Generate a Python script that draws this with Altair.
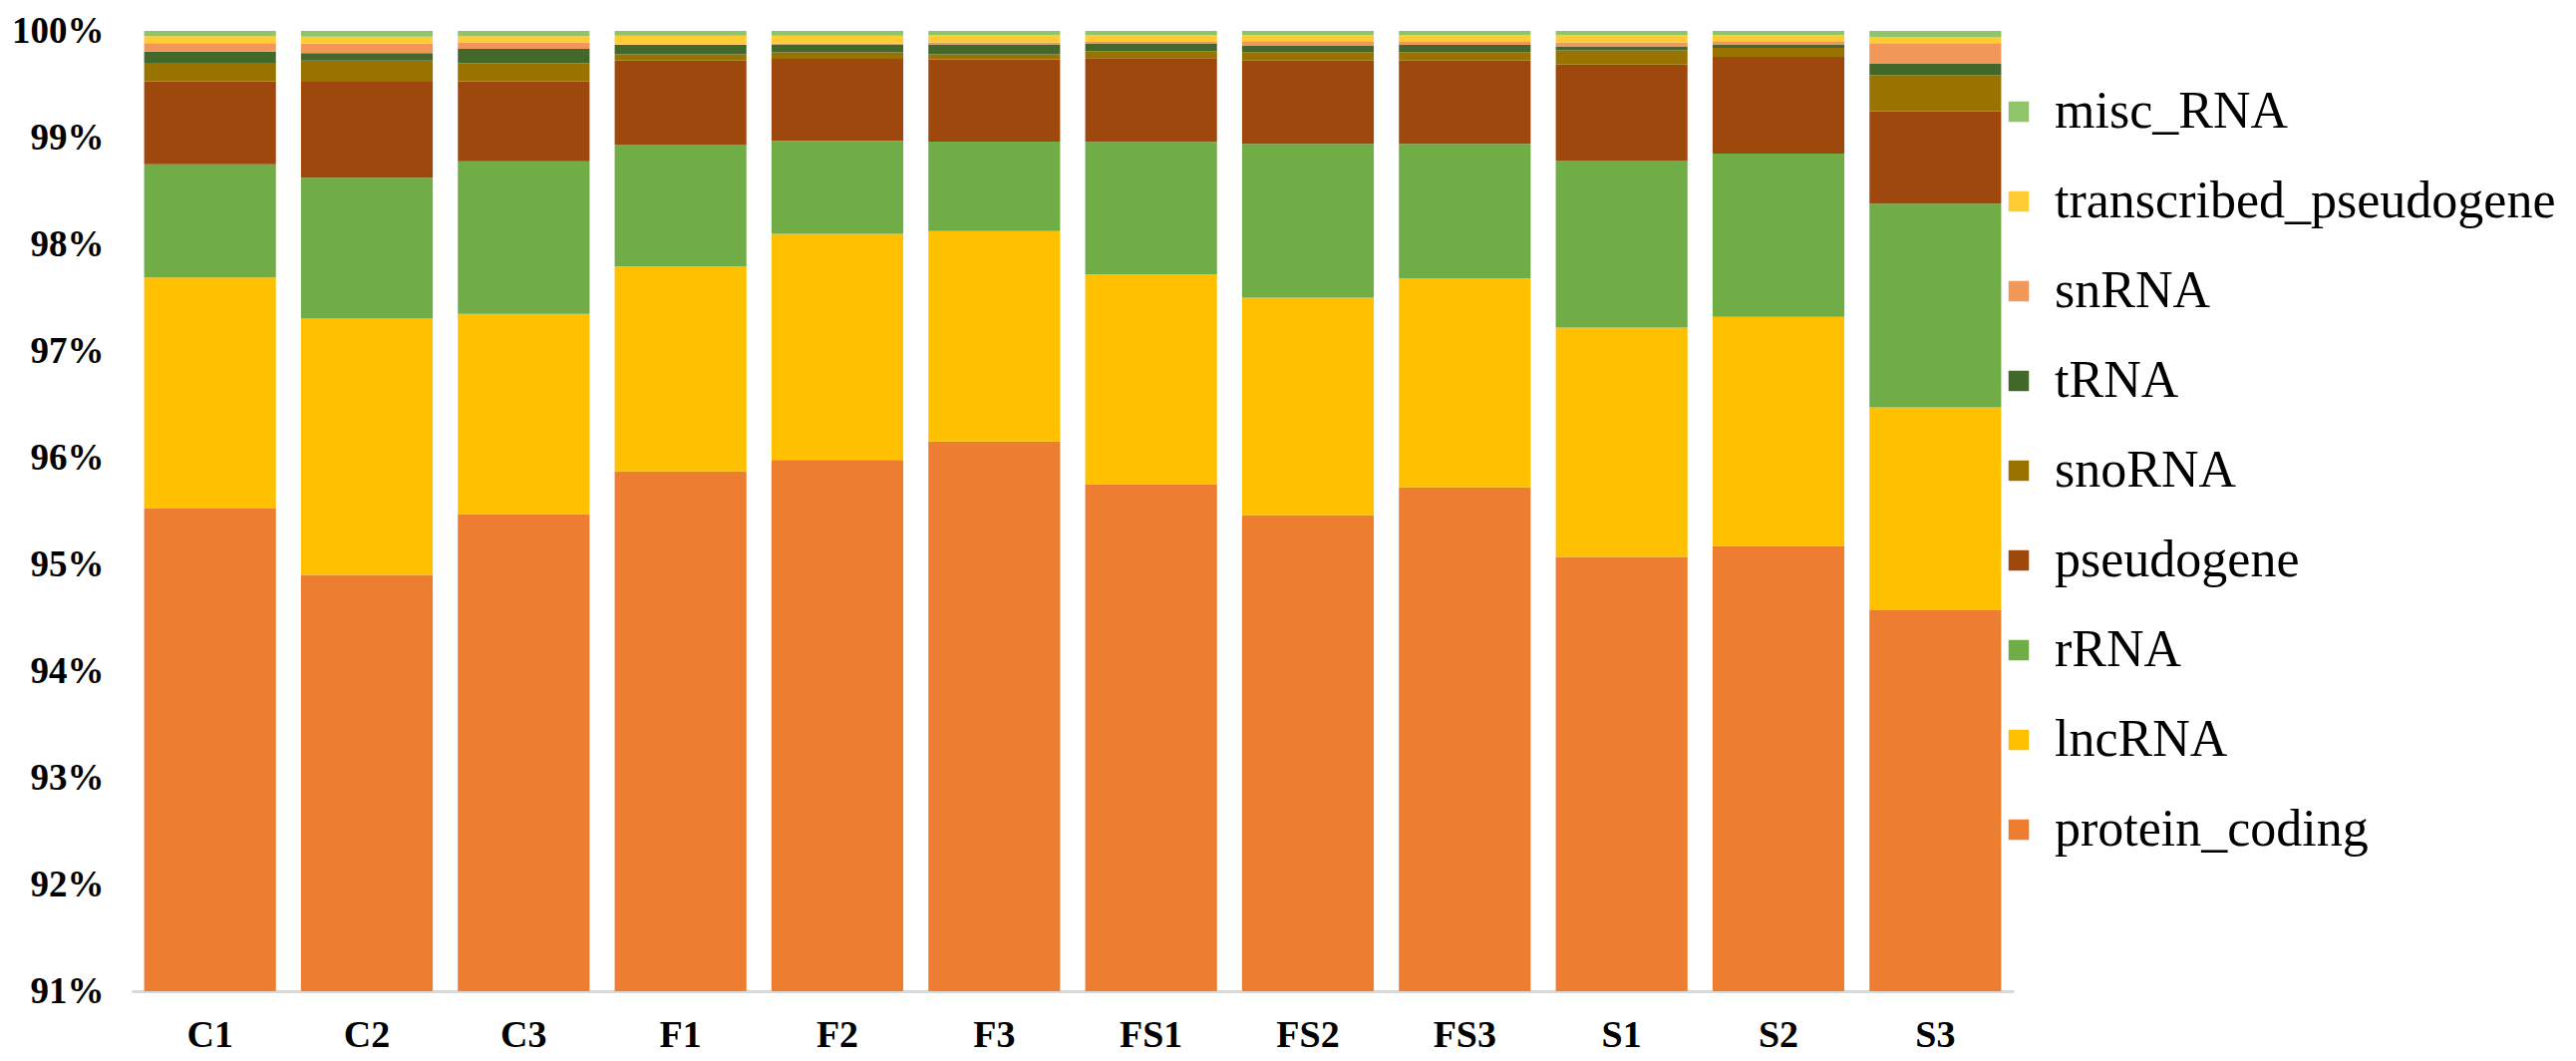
import altair as alt
import pandas as pd

samples = ["C1", "C2", "C3", "F1", "F2", "F3", "FS1", "FS2", "FS3", "S1", "S2", "S3"]

# bottom-to-top stack order
biotypes = ["protein_coding", "lncRNA", "rRNA", "pseudogene", "snoRNA",
            "tRNA", "snRNA", "transcribed_pseudogene", "misc_RNA"]
colors = ["#ED7D31", "#FFC000", "#70AD47", "#9E480E", "#997300",
          "#43682B", "#F1975A", "#FFCD33", "#8FC46A"]

# percentages per sample
protein_coding = [95.53, 94.90, 95.47, 95.87, 95.98, 96.15, 95.75, 95.46, 95.72, 95.07, 95.17, 94.57]
lncRNA = [2.16, 2.40, 1.88, 1.92, 2.12, 1.97, 1.97, 2.04, 1.96, 2.15, 2.15, 1.90]
rRNA = [1.06, 1.32, 1.43, 1.14, 0.87, 0.84, 1.24, 1.44, 1.26, 1.56, 1.53, 1.91]
pseudogene = [0.78, 0.90, 0.75, 0.79, 0.77, 0.77, 0.785, 0.78, 0.78, 0.905, 0.907, 0.866]
snoRNA = [0.171, 0.198, 0.168, 0.060, 0.060, 0.048, 0.063, 0.081, 0.081, 0.132, 0.084, 0.339]
tRNA = [0.105, 0.072, 0.135, 0.087, 0.075, 0.093, 0.075, 0.063, 0.066, 0.039, 0.033, 0.105]
snRNA = [0.081, 0.087, 0.060, 0.006, 0.006, 0.018, 0.015, 0.039, 0.030, 0.036, 0.030, 0.195]
transcribed_pseudogene = [0.066, 0.066, 0.060, 0.081, 0.075, 0.069, 0.063, 0.057, 0.063, 0.069, 0.057, 0.057]
misc_RNA = [0.048, 0.054, 0.048, 0.045, 0.045, 0.039, 0.039, 0.039, 0.039, 0.039, 0.039, 0.057]

series = [protein_coding, lncRNA, rRNA, pseudogene, snoRNA, tRNA, snRNA,
          transcribed_pseudogene, misc_RNA]

y_ticks = [0.91, 0.92, 0.93, 0.94, 0.95, 0.96, 0.97, 0.98, 0.99, 1.0]

rows = []
for bi, (name, vals) in enumerate(zip(biotypes, series)):
    for s, v in zip(samples, vals):
        rows.append({"sample": s, "biotype": name, "value": v, "idx": bi})
df = pd.DataFrame(rows)

FONT = "Liberation Serif"

chart = alt.Chart(df).mark_bar(clip=True).encode(
    x=alt.X("sample:N", sort=samples, title=None,
            scale=alt.Scale(paddingInner=0.16, paddingOuter=0.08),
            axis=alt.Axis(labelAngle=0, ticks=False, domainColor="#D9D9D9",
                          domainWidth=3, labelFontSize=38, labelFont=FONT,
                          labelFontWeight="bold", labelColor="#000000",
                          labelPadding=25)),
    y=alt.Y("value:Q", stack="normalize", title=None,
            scale=alt.Scale(domain=[0.91, 1.0], nice=False, zero=False),
            axis=alt.Axis(values=y_ticks, format=".0%", grid=False, domain=False,
                          ticks=False, labelFontSize=37, labelFont=FONT,
                          labelFontWeight="bold", labelColor="#000000",
                          labelPadding=28)),
    color=alt.Color("biotype:N",
                    scale=alt.Scale(domain=biotypes[::-1], range=colors[::-1]),
                    legend=alt.Legend(title=None, orient="none", legendX=1867, legendY=55,
                                      symbolType="square", symbolSize=420,
                                      symbolStrokeWidth=0, labelFontSize=52,
                                      labelFont=FONT, labelColor="#000000",
                                      labelOffset=10, rowPadding=38,
                                      labelLimit=700)),
    order=alt.Order("idx:Q", sort="ascending"),
).properties(
    width=1888,
    height=963,
    padding={"left": 124, "top": 23, "right": 556, "bottom": 70},
    autosize=alt.AutoSizeParams(type="none"),
).configure(
    background="white", font=FONT
).configure_view(stroke=None).configure_legend(
    labelFont=FONT, labelFontSize=52, labelColor="#000000"
)

chart.save("out.html", embed_options={"renderer": "svg", "actions": False})
